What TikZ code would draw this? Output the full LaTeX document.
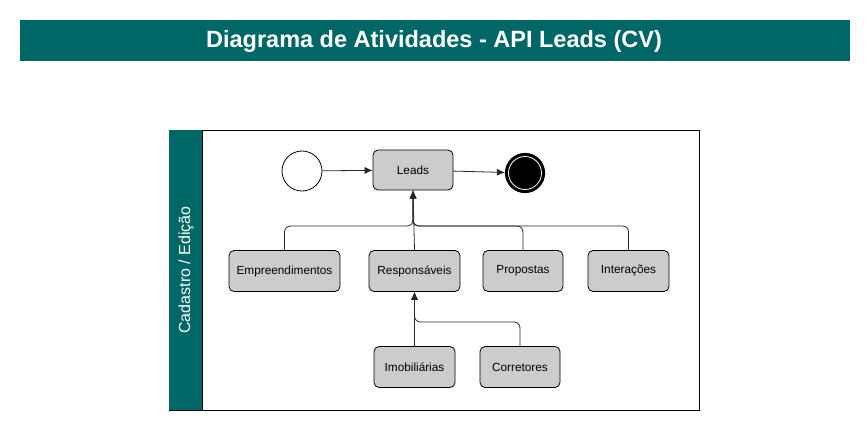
\documentclass[tikz,border=0pt]{standalone}
\usepackage{fontspec}
\setmainfont{Liberation Sans}
\usetikzlibrary{arrows.meta}
\definecolor{tealbar}{RGB}{0,102,102}
\definecolor{boxgray}{RGB}{204,204,204}
\begin{document}
\begin{tikzpicture}[
  x=1pt, y=-1pt,
  act/.style={draw, rounded corners=5pt, fill=boxgray, minimum height=41pt, inner sep=2pt, font=\fontsize{11.8}{13}\selectfont, line width=0.8pt},
  flow/.style={draw=black!85, line width=0.8pt, rounded corners=6pt, -{Latex[length=8pt,width=7pt]}},
  link/.style={draw=black!85, line width=0.8pt, rounded corners=6pt}
]
\useasboundingbox (0,0) rectangle (867,431);

% --- title bar ---
\fill[tealbar] (20,20) rectangle (850,61);
\node[text=white, font=\bfseries\fontsize{23.5}{26}\selectfont] (title) at (434,41) {Diagrama de Atividades - API Leads (CV)};

% --- pool and lane ---
\draw[line width=0.8pt] (169,130) rectangle (699,410);
\fill[tealbar] (169.4,130.4) rectangle (202,409.6);
\draw[line width=0.8pt] (202,130) -- (202,410);
\node[rotate=90, text=white, font=\fontsize{16}{18}\selectfont] (lane) at (186,270) {Cadastro / Edição};

% --- start / end ---
\node[circle, draw, line width=0.8pt, minimum size=40pt, inner sep=0pt] (start) at (302,171) {};
\node[circle, draw, line width=2.2pt, fill=black, minimum size=38pt, inner sep=0pt] (end) at (525,173) {};
\draw[white, line width=0.8pt] (end) circle (16.5pt);

% --- activities ---
\node[act, minimum width=80pt, minimum height=40pt] (leads) at (413,170) {Leads};
\node[act, minimum width=111pt] (emp) at (284.5,271) {Empreendimentos};
\node[act, minimum width=91pt] (resp) at (414.5,271) {Responsáveis};
\node[act, minimum width=80pt] (prop) at (523,271) {Propostas};
\node[act, minimum width=81pt] (inter) at (628.5,271) {Interações};
\node[act, minimum width=81pt] (imob) at (414.5,367) {Imobiliárias};
\node[act, minimum width=80pt] (corr) at (520,367) {Corretores};

% --- junction points ---
\coordinate (jleads) at (leads.south |- 0,226);
\coordinate (jresp) at (resp.south |- 0,322);

% --- flows ---
\draw[flow] (start) -- (leads);
\draw[flow] (leads) -- (end);
\draw[flow] (emp.north) |- (jleads) -- (leads.south);
\draw[flow] (resp.north) -- (leads.south);
\draw[flow] (prop.north) |- (jleads) -- (leads.south);
\draw[flow] (inter.north) |- (jleads) -- (leads.south);
\draw[flow] (imob.north) -- (resp.south);
\draw[flow] (corr.north) |- (jresp) -- (resp.south);

\end{tikzpicture}
\end{document}
